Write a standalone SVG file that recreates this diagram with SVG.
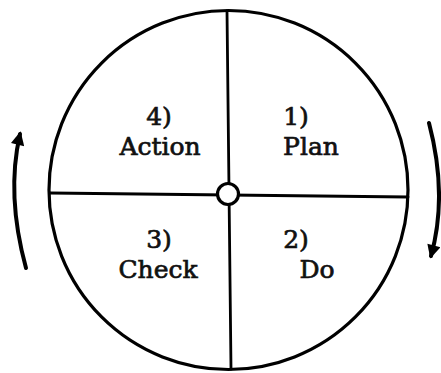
<svg xmlns="http://www.w3.org/2000/svg" width="441" height="373" viewBox="0 0 441 373">
<style>
.ln{stroke:#000;fill:none;stroke-linecap:round}
.t{font-family:"DejaVu Serif","Liberation Serif",serif;font-size:25px;fill:#111;stroke:#111;stroke-width:0.7px;text-anchor:middle}
</style>
<defs>
<marker id="ah" viewBox="0 0 10 10" refX="8" refY="5" markerWidth="4.5" markerHeight="3.4" orient="auto">
<path d="M0,0 L10,5 L0,10 z" fill="#000"/>
</marker>
</defs>
<rect width="441" height="373" fill="#fff"/>
<g id="wheel">
<circle class="ln" cx="228.5" cy="190" r="179.5" stroke-width="3.2"/>
</g>
<g id="connectors">
<line class="ln" x1="50" y1="193" x2="408" y2="197" stroke-width="2.8"/>
<line class="ln" x1="227" y1="11" x2="231" y2="369" stroke-width="2.8"/>
<path class="ln" d="M26,268 Q6,195 20,134" stroke-width="4" marker-end="url(#ah)"/>
<path class="ln" d="M429,123 Q448,195 431,256" stroke-width="4" marker-end="url(#ah)"/>
</g>
<g id="hub">
<circle cx="228" cy="194" r="10.5" fill="#fff" stroke="#000" stroke-width="3.2"/>
</g>
<g id="plan">
<text class="t" x="296" y="125">1)</text>
<text class="t" x="311" y="155">Plan</text>
</g>
<g id="do">
<text class="t" x="296" y="248">2)</text>
<text class="t" x="317" y="278">Do</text>
</g>
<g id="check">
<text class="t" x="159" y="248">3)</text>
<text class="t" x="158" y="278">Check</text>
</g>
<g id="action">
<text class="t" x="159" y="125">4)</text>
<text class="t" x="160" y="155">Action</text>
</g>
</svg>
